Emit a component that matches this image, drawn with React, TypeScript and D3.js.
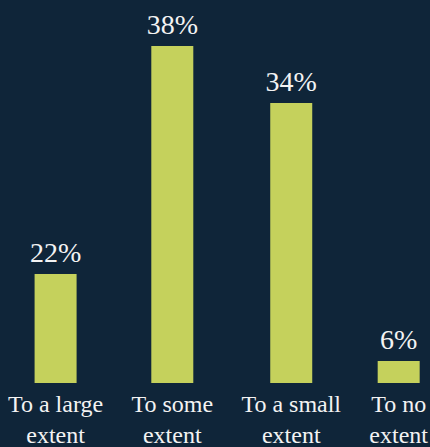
import React from 'react';
import * as d3 from 'd3';

const categories: string[][] = [
  ['To a large', 'extent'],
  ['To some', 'extent'],
  ['To a small', 'extent'],
  ['To no', 'extent'],
];
const values: number[] = [22, 38, 34, 6];
const valueLabels: string[] = ['22%', '38%', '34%', '6%'];

const W = 430;
const H = 447;
const BG = '#0f2539';
const BAR = '#c5d15c';
const TEXT = '#f3f3f3';
const FONT_FAMILY = '"Liberation Serif", serif';
const CAT_SIZE = 24;
const VAL_SIZE = 28;
const BAR_W = 42;
const BASE = 383;
const TOP = 46;
const MIN_BAR = 22;

function measure(text: string, size: number): number {
  const c = document.createElement('canvas');
  const ctx = c.getContext('2d');
  if (!ctx) return text.length * size * 0.45;
  ctx.font = `${size}px ${FONT_FAMILY}`;
  return ctx.measureText(text).width;
}

export default function App() {
  React.useEffect(() => {
    document.body.style.margin = '0';
    document.body.style.background = BG;
  }, []);

  // column widths from label widths, laid out with space-between
  const colW = categories.map((lines) =>
    Math.max(BAR_W, ...lines.map((l) => measure(l, CAT_SIZE)))
  );
  const left = 8;
  const right = W - 2;
  const total = d3.sum(colW);
  const gap = (right - left - total) / (categories.length - 1);
  const centers: number[] = [];
  let cur = left;
  colW.forEach((w) => {
    centers.push(cur + w / 2);
    cur += w + gap;
  });
  const x = d3
    .scaleOrdinal<number, number>()
    .domain(d3.range(categories.length))
    .range(centers);

  const y = d3.scaleLinear().domain([14.35, d3.max(values) as number]).range([BASE, TOP]);

  return (
    <svg width={W} height={H} style={{ display: 'block', background: BG }}>
      <rect x={0} y={0} width={W} height={H} fill={BG} />
      {values.map((v, i) => {
        const top = Math.min(y(v), BASE - MIN_BAR);
        const cx = x(i);
        return (
          <g key={i}>
            <rect x={cx - BAR_W / 2} y={top} width={BAR_W} height={BASE - top} fill={BAR} />
            <text
              x={cx}
              y={top - 12}
              textAnchor="middle"
              fill={TEXT}
              fontFamily={FONT_FAMILY}
              fontSize={VAL_SIZE}
            >
              {valueLabels[i]}
            </text>
            {categories[i].map((line, j) => (
              <text
                key={j}
                x={cx}
                y={412 + j * 31}
                textAnchor="middle"
                fill={TEXT}
                fontFamily={FONT_FAMILY}
                fontSize={CAT_SIZE}
              >
                {line}
              </text>
            ))}
          </g>
        );
      })}
    </svg>
  );
}
